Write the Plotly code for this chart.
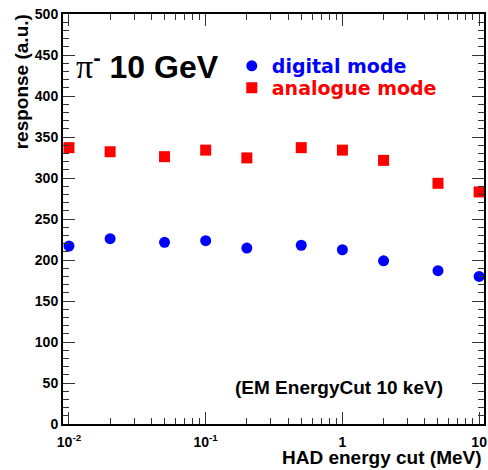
import plotly.graph_objects as go

# Data
had_cut = [0.01, 0.02, 0.05, 0.1, 0.2, 0.5, 1, 2, 5, 10]
digital = [217, 226, 221.5, 223.5, 214.5, 218, 212.5, 199, 187, 180]
analogue = [337, 332, 326, 334, 324.5, 337, 334, 321.5, 293.5, 283]
x_tickvals = [0.01, 0.1, 1, 10]
x_ticktext = ["10<sup>-2</sup>", "10<sup>-1</sup>", "1", "10"]

FONT = "Liberation Sans, Arial, sans-serif"
PL, PT, PW, PH = 63, 14, 424, 410   # plot area in page pixels

def px(x):
    return (x - PL) / PW

def py(y):
    return (PT + PH - y) / PH

fig = go.Figure()
fig.add_trace(go.Scatter(
    x=had_cut, y=digital, mode="markers",
    name='<span style="color:#0000ff">digital mode</span>',
    marker=dict(symbol="circle", size=11, color="#0000ff"),
    legend="legend",
))
fig.add_trace(go.Scatter(
    x=had_cut, y=analogue, mode="markers",
    name='<span style="color:#ff0000">analogue mode</span>',
    marker=dict(symbol="square", size=11, color="#ff0000"),
    legend="legend2",
))

axis_common = dict(
    showline=True, linecolor="black", linewidth=2, mirror="allticks",
    ticks="inside", tickcolor="#333", tickwidth=1, ticklen=12,
    showgrid=False, zeroline=False, ticklabeloverflow="allow",
    tickfont=dict(family=FONT, size=14, color="black", weight="bold"),
)

fig.update_xaxes(
    type="log", range=[-2.0436, 1.0355],
    tickvals=x_tickvals, ticktext=x_ticktext,
    ticklabelstandoff=4,
    minor=dict(ticks="inside", ticklen=6, tickcolor="#333", tickwidth=1,
               dtick="D1", showgrid=False),
    **axis_common,
)
fig.update_yaxes(
    range=[0, 500], dtick=50, tick0=0,
    ticklabelstandoff=0,
    minor=dict(ticks="inside", ticklen=6, tickcolor="#333", tickwidth=1,
               dtick=10, showgrid=False),
    **axis_common,
)

legend_common = dict(
    xanchor="left", yanchor="middle",
    bgcolor="rgba(0,0,0,0)", borderwidth=0,
    font=dict(family="DejaVu Sans, sans-serif", size=19, weight="bold"),
    itemsizing="trace",
)

fig.update_layout(
    width=488, height=470,
    margin=dict(l=PL, r=488 - PL - PW, t=PT, b=470 - PT - PH),
    paper_bgcolor="white", plot_bgcolor="white",
    font=dict(family=FONT, color="black"),
    showlegend=True,
    legend=dict(x=px(233), y=py(66), **legend_common),
    legend2=dict(x=px(233), y=py(88), **legend_common),
    annotations=[
        dict(text='<span style="font-family:Liberation Serif;font-weight:normal;font-size:34px">π</span><sup>-</sup> 10 GeV',
             xref="paper", yref="paper", x=px(74), y=py(65),
             xanchor="left", yanchor="middle", showarrow=False,
             font=dict(family=FONT, size=32, color="black", weight="bold")),
        dict(text="(EM EnergyCut 10 keV)",
             xref="paper", yref="paper", x=px(448), y=py(387),
             xanchor="right", yanchor="middle", showarrow=False,
             font=dict(family=FONT, size=19, color="black", weight="bold")),
        dict(text="HAD energy cut (MeV)",
             xref="paper", yref="paper", x=px(487), y=py(457),
             xanchor="right", yanchor="middle", showarrow=False,
             font=dict(family=FONT, size=19, color="black", weight="bold")),
        dict(text="response (a.u.)", textangle=-90,
             xref="paper", yref="paper", x=px(21), y=py(82),
             xanchor="center", yanchor="middle", showarrow=False,
             font=dict(family=FONT, size=19, color="black", weight="bold")),
    ],
)

fig.write_html(
    "out.html",
    config={"displayModeBar": False},
    post_script="document.body.style.margin='0';document.body.style.overflow='hidden';",
)
